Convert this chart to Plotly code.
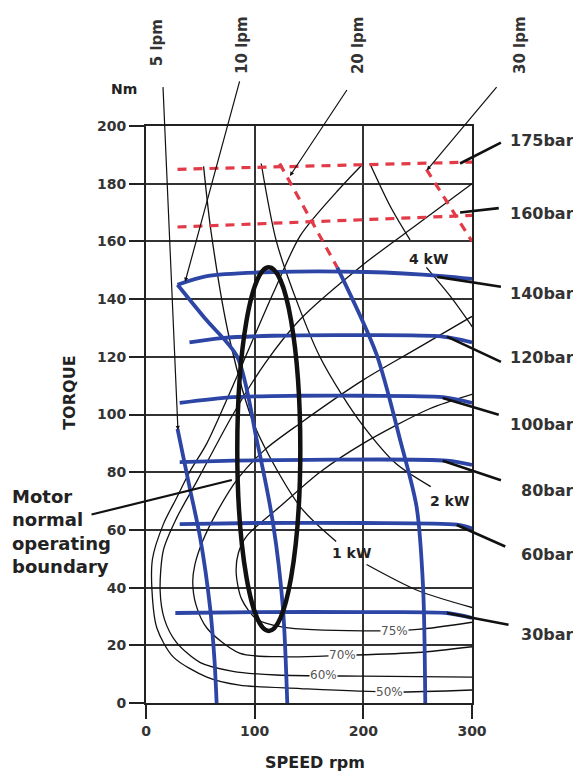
import plotly.graph_objects as go

# ---------------- data ----------------
x_ticks = [0, 100, 200, 300]
y_ticks = list(range(0, 201, 20))

# pressure (bar) lines, blue
p140_x = [29, 56, 117, 203, 273, 300]; p140_y = [145, 148, 149.4, 149.4, 148, 147]
p120_x = [40, 70, 117, 200, 273, 300]; p120_y = [125, 126.5, 127.3, 127.5, 127, 125]
p100_x = [31, 80, 140, 200, 273, 300]; p100_y = [104, 106, 106.5, 106.5, 106, 104]
p80_x = [31, 80, 150, 277, 300];       p80_y = [83.5, 84, 84.3, 84, 82.5]
p60_x = [31, 100, 200, 286, 300];      p60_y = [62, 62.4, 62.4, 61.8, 60.5]
p30_x = [27, 100, 200, 277, 300];      p30_y = [31.2, 31.5, 31.5, 31.2, 29.5]

# high pressure lines, red dashed
p175_x = [29, 300]; p175_y = [185, 187.5]
p160_x = [29, 300]; p160_y = [165, 169]

# flow (lpm) lines
f5_x = [29, 40, 50, 59, 63, 65];            f5_y = [95, 75, 57, 33, 15, 0]
f10_x = [29, 55, 84, 102, 117, 126, 130];   f10_y = [145, 133, 120, 91, 62, 33, 0]
f20_x = [176, 212, 234, 249, 255, 257];     f20_y = [151, 121, 91, 68, 40, 0]
f20r_x = [123, 176];                        f20r_y = [187, 151]
f30r_x = [258, 300];                        f30r_y = [185, 160]

# power lines
kw1a_x = [53, 60, 77, 100, 142, 175];  kw1a_y = [186, 163, 126, 96, 68, 56]
kw1b_x = [203, 250, 301];              kw1b_y = [48, 39, 33]
kw2_x = [106, 120, 140, 160, 180, 200, 230, 262]; kw2_y = [187, 160, 138, 120, 107, 96, 83, 75]
kw4a_x = [206, 225, 243];              kw4a_y = [187, 172, 160.5]
kw4b_x = [258, 280, 301];              kw4b_y = [151, 141, 130]

# efficiency contours
e50_x = [300, 225, 142, 86, 56, 25, 10, 5.5, 6, 16, 28, 40, 56, 80, 117, 142, 175, 200]
e50_y = [4.5, 3.8, 5, 6.2, 9, 16, 26, 39, 50, 62, 71, 80, 90, 110, 142, 162, 177, 187]
e60_x = [300, 200, 120, 80, 50, 28, 17, 13, 16, 28, 47, 80, 110, 142, 200, 250, 300]
e60_y = [9, 9.3, 9.7, 11, 14, 21, 29, 39, 53, 64, 77, 100, 118, 133, 152, 166, 180]
e70_x = [300, 250, 181, 130, 86, 56, 46, 43, 45, 52, 65, 85, 110, 142, 200, 250, 300]
e70_y = [19.5, 17.5, 16.5, 16, 17.3, 26, 34, 42, 48, 56, 66, 78, 88, 97, 112, 123, 134]
e75_x = [300, 250, 200, 126, 102, 88, 83, 85, 93, 123, 160, 200, 261, 300]
e75_y = [28, 25.5, 25, 26.3, 29, 36, 45, 52, 58, 68, 80, 90, 102, 107]

ellipse_x = [84, 142]
ellipse_y = [25, 151]

bar_names = ["175bar", "160bar", "140bar", "120bar", "100bar", "80bar", "60bar", "30bar"]
bar_head_x = [289, 289, 268, 277, 273, 273, 286, 277]
bar_head_y = [187, 170, 147.7, 127, 105.7, 84, 61.7, 31.2]
bar_tail_x = [328, 326, 328, 328, 326, 328, 332, 335]
bar_tail_y = [194.5, 171.6, 144.2, 118, 99.8, 77, 54, 27]
bar_text_x = 396
bar_text_y = [195.1, 169.8, 142.1, 119.6, 96.4, 73.8, 51.3, 23.6]

lpm_names = ["5 lpm", "10 lpm", "20 lpm", "30 lpm"]
lpm_text_x = [10, 89, 195, 344]
lpm_text_y = [229, 228, 228, 228]
lpm_tail_x = [15.6, 86.5, 185.8, 323.8]
lpm_tail_y = [214, 216, 213, 214]
lpm_head_x = [29.4, 36, 132.5, 258.5]
lpm_head_y = [94.6, 146, 182.7, 184.7]

kw_names = ["1 kW", "2 kW", "4 kW"]
kw_text_x = [189, 279, 260]
kw_text_y = [52, 70, 154]

eff_names = ["75%", "70%", "60%", "50%"]
eff_text_x = [229, 181, 163, 224]
eff_text_y = [25, 16.6, 9.7, 3.8]

# ---------------- styles ----------------
BLUE = "#2d45a5"
RED = "#e33a48"
BLACK = "#111111"
FONT = "DejaVu Sans"
X_MAX, Y_MAX = 300.0, 200.0

fig = go.Figure()

def line(x, y, color, width, dash=None, shape="spline"):
    fig.add_trace(go.Scatter(x=x, y=y, mode="lines", hoverinfo="skip",
                             line=dict(color=color, width=width, dash=dash, shape=shape,
                                       smoothing=0.8)))

for xs, ys in [(e50_x, e50_y), (e60_x, e60_y), (e70_x, e70_y), (e75_x, e75_y),
               (kw1a_x, kw1a_y), (kw1b_x, kw1b_y), (kw2_x, kw2_y), (kw4a_x, kw4a_y), (kw4b_x, kw4b_y)]:
    line(xs, ys, BLACK, 1.3)

for xs, ys in [(p175_x, p175_y), (p160_x, p160_y), (f20r_x, f20r_y), (f30r_x, f30r_y)]:
    line(xs, ys, RED, 3.2, dash="9px,7px", shape="linear")

for xs, ys in [(p140_x, p140_y), (p120_x, p120_y), (p100_x, p100_y), (p80_x, p80_y),
               (p60_x, p60_y), (p30_x, p30_y), (f5_x, f5_y), (f10_x, f10_y), (f20_x, f20_y)]:
    line(xs, ys, BLUE, 3.8)

fig.add_shape(type="circle", xref="x", yref="y", x0=ellipse_x[0], x1=ellipse_x[1],
              y0=ellipse_y[0], y1=ellipse_y[1], line=dict(color=BLACK, width=4.5), layer="above")

def px(x):
    return x / X_MAX

def py(y):
    return y / Y_MAX

C = dict(xanchor="center", yanchor="middle")
ann = []
tfont = dict(family=FONT, size=16, color="#333333", weight="bold")
for n, hx, hy, tx, ty, yy in zip(bar_names, bar_head_x, bar_head_y, bar_tail_x, bar_tail_y, bar_text_y):
    ann.append(dict(x=hx, y=hy, ax=tx, ay=ty, axref="x", ayref="y", xref="x", yref="y",
                    text="", showarrow=True, arrowhead=0, arrowwidth=2.6, arrowcolor=BLACK,
                    standoff=0, startstandoff=0))
    ann.append(dict(x=px(bar_text_x), y=py(yy), xref="paper", yref="paper", text=n, showarrow=False,
                    xanchor="right", yanchor="middle", font=tfont))
for n, x0, y0, tx, ty, hx, hy in zip(lpm_names, lpm_text_x, lpm_text_y, lpm_tail_x, lpm_tail_y,
                                      lpm_head_x, lpm_head_y):
    ann.append(dict(x=px(x0), y=py(y0), xref="paper", yref="paper", text=n, textangle=-90,
                    showarrow=False, font=dict(family=FONT, size=15, color="#333", weight="bold"), **C))
    ann.append(dict(x=hx, y=hy, ax=tx, ay=ty, axref="x", ayref="y", xref="x", yref="y",
                    text="", showarrow=True, arrowhead=2, arrowsize=0.7, arrowwidth=1.2,
                    arrowcolor=BLACK, standoff=0, startstandoff=0))
for n, x0, y0 in zip(kw_names, kw_text_x, kw_text_y):
    ann.append(dict(x=x0, y=y0, xref="x", yref="y", text=n, showarrow=False,
                    font=dict(family=FONT, size=14, color="#222", weight="bold"), **C))
for n, x0, y0 in zip(eff_names, eff_text_x, eff_text_y):
    ann.append(dict(x=x0, y=y0, xref="x", yref="y", text=n, showarrow=False,
                    bgcolor="white", borderpad=0,
                    font=dict(family=FONT, size=12, color="#555"), **C))

ann.append(dict(x=79, y=77.3, ax=-51.5, ay=65.2, axref="x", ayref="y", xref="x", yref="y",
                text="", showarrow=True, arrowhead=0, arrowwidth=2.2, arrowcolor=BLACK,
                standoff=0, startstandoff=0))
ann.append(dict(x=px(-125), y=py(59.5), xref="paper", yref="paper", xanchor="left",
                yanchor="middle", align="left",
                text="Motor<br>normal<br>operating<br>boundary", showarrow=False,
                font=dict(family=FONT, size=18, color="#222", weight="bold")))
ann.append(dict(x=px(-20.5), y=py(212.8), xref="paper", yref="paper", text="Nm", showarrow=False,
                font=dict(family=FONT, size=14, color="#222", weight="bold"), **C))
ann.append(dict(x=px(-70), y=py(107.5), xref="paper", yref="paper", text="TORQUE", textangle=-90,
                showarrow=False, font=dict(family=FONT, size=16, color="#222", weight="bold"), **C))
ann.append(dict(x=px(155.5), y=py(-20.5), xref="paper", yref="paper", text="SPEED rpm",
                showarrow=False, font=dict(family=FONT, size=16, color="#222", weight="bold"), **C))

# page body adds an 8px margin, so the figure is 8px smaller with margins shifted
fig.update_layout(
    width=573, height=766, autosize=False,
    margin=dict(l=138, r=109, t=118, b=71, pad=0),
    paper_bgcolor="white", plot_bgcolor="white",
    showlegend=False, annotations=ann,
    xaxis=dict(range=[0, X_MAX], tickvals=x_ticks, ticks="outside", ticklen=14, tickwidth=2,
               tickcolor="#222", showgrid=True, gridcolor="#333", gridwidth=2,
               showline=True, mirror=True, linecolor="#222", linewidth=2, zeroline=False,
               tickfont=dict(family=FONT, size=14, color="#333", weight="bold")),
    yaxis=dict(range=[0, Y_MAX], tickvals=y_ticks, ticks="outside", ticklen=15, tickwidth=2,
               tickcolor="#222", showgrid=True, gridcolor="#333", gridwidth=2,
               showline=True, mirror=True, linecolor="#222", linewidth=2, zeroline=False,
               tickfont=dict(family=FONT, size=14, color="#333", weight="bold")),
)

fig.write_html("out.html")
